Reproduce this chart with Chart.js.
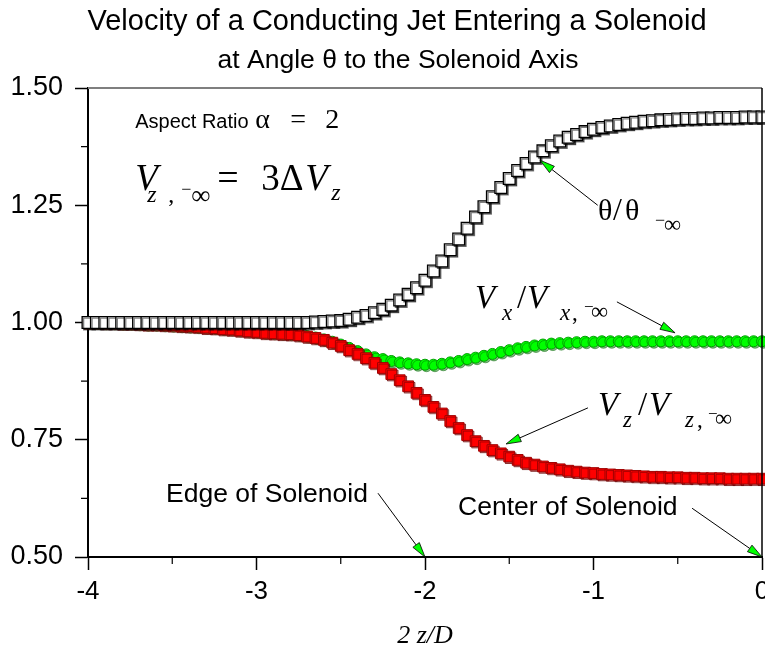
<!DOCTYPE html>
<html>
<head>
<meta charset="utf-8">
<script src="https://cdn.jsdelivr.net/npm/chart.js@4.4.1/dist/chart.umd.min.js"></script>
<style>
html, body { margin: 0; padding: 0; background: #fff; }
</style>
</head>
<body>
<canvas id="chart" width="765" height="656"></canvas>
<script>
const chartPlace = document.getElementById("chart");

const SANS = "'Liberation Sans', Arial, sans-serif";
const SERIF = "'Liberation Serif', 'Times New Roman', serif";

const titleLines = [
	"Velocity of a Conducting Jet Entering a Solenoid",
	"at Angle \u03b8 to the Solenoid Axis",
];

// 2z/D positions of the computed points
const zPos = [
	-4.00, -3.95, -3.90, -3.85, -3.80, -3.75, -3.70, -3.65, -3.60, -3.55,
	-3.50, -3.45, -3.40, -3.35, -3.30, -3.25, -3.20, -3.15, -3.10, -3.05,
	-3.00, -2.95, -2.90, -2.85, -2.80, -2.75, -2.70, -2.65, -2.60, -2.55,
	-2.50, -2.45, -2.40, -2.35, -2.30, -2.25, -2.20, -2.15, -2.10, -2.05,
	-2.00, -1.95, -1.90, -1.85, -1.80, -1.75, -1.70, -1.65, -1.60, -1.55,
	-1.50, -1.45, -1.40, -1.35, -1.30, -1.25, -1.20, -1.15, -1.10, -1.05,
	-1.00, -0.95, -0.90, -0.85, -0.80, -0.75, -0.70, -0.65, -0.60, -0.55,
	-0.50, -0.45, -0.40, -0.35, -0.30, -0.25, -0.20, -0.15, -0.10, -0.05,
	0.00,
];

// theta / theta_-inf
const thetaRatio = [
	1.000, 1.000, 1.000, 1.000, 1.000, 1.000, 1.000, 1.000, 1.000, 1.000,
	1.000, 1.000, 1.000, 1.000, 1.000, 1.000, 1.000, 1.000, 1.000, 1.000,
	1.000, 1.000, 1.000, 1.000, 1.000, 1.000, 1.000, 1.001, 1.002, 1.003,
	1.004, 1.007, 1.011, 1.015, 1.021, 1.028, 1.037, 1.048, 1.060, 1.074,
	1.090, 1.110, 1.131, 1.155, 1.178, 1.201, 1.225, 1.247, 1.268, 1.288,
	1.307, 1.324, 1.339, 1.353, 1.366, 1.377, 1.387, 1.395, 1.401, 1.407,
	1.412, 1.416, 1.419, 1.422, 1.425, 1.427, 1.429, 1.430, 1.432, 1.433,
	1.434, 1.435, 1.435, 1.436, 1.436, 1.437, 1.437, 1.437, 1.438, 1.438,
	1.438,
];

// Vx / Vx,-inf
const vxRatio = [
	1.000, 1.000, 0.999, 0.999, 0.998, 0.998, 0.997, 0.996, 0.996, 0.995,
	0.994, 0.993, 0.992, 0.991, 0.990, 0.989, 0.987, 0.986, 0.984, 0.982,
	0.981, 0.979, 0.978, 0.977, 0.976, 0.974, 0.971, 0.968, 0.964, 0.959,
	0.953, 0.946, 0.939, 0.932, 0.926, 0.922, 0.918, 0.915, 0.913, 0.911,
	0.910, 0.910, 0.912, 0.915, 0.918, 0.922, 0.925, 0.929, 0.933, 0.937,
	0.941, 0.945, 0.948, 0.951, 0.953, 0.955, 0.956, 0.957, 0.958, 0.959,
	0.959, 0.960, 0.960, 0.960, 0.960, 0.960, 0.960, 0.960, 0.960, 0.960,
	0.960, 0.960, 0.960, 0.960, 0.960, 0.960, 0.960, 0.960, 0.960, 0.960,
	0.960,
];

// Vz / Vz,-inf
const vzRatio = [
	1.000, 1.000, 0.999, 0.999, 0.998, 0.998, 0.997, 0.996, 0.996, 0.995,
	0.994, 0.993, 0.992, 0.991, 0.989, 0.988, 0.986, 0.985, 0.983, 0.981,
	0.980, 0.978, 0.977, 0.976, 0.975, 0.973, 0.970, 0.967, 0.963, 0.957,
	0.950, 0.941, 0.933, 0.924, 0.914, 0.903, 0.890, 0.877, 0.864, 0.850,
	0.835, 0.820, 0.806, 0.790, 0.775, 0.760, 0.747, 0.737, 0.728, 0.721,
	0.714, 0.707, 0.701, 0.697, 0.693, 0.690, 0.687, 0.684, 0.682, 0.680,
	0.679, 0.677, 0.676, 0.675, 0.674, 0.673, 0.672, 0.671, 0.671, 0.670,
	0.670, 0.669, 0.669, 0.668, 0.668, 0.668, 0.667, 0.667, 0.667, 0.667,
	0.667,
];

const xMajorTicks = [-4, -3, -2, -1, 0];
const xMinorTicks = [-3.5, -2.5, -1.5, -0.5];
const yMajorTicks = [0.5, 0.75, 1.0, 1.25, 1.5];
const yMinorTicks = [0.625, 0.875, 1.125, 1.375];

// annotation texts: anchor in data units, runs = [text, font, dx, dy]
const notes = [
	{ x: -3.72, y: 1.415, runs: [
		["Aspect Ratio", "20px " + SANS, 0, 0],
		["\u03b1", "28px " + SERIF, 120, 0],
		["=", "28px " + SERIF, 155, 0],
		["2", "28px " + SERIF, 190, 0],
	] },
	{ x: -3.72, y: 1.283, runs: [
		["V", "italic 37px " + SERIF, 0, 0],
		["z", "italic 24px " + SERIF, 12, 12],
		[",", "24px " + SERIF, 33, 12],
		["\u2212", "18px " + SERIF, 46, 5],
		["\u221e", "27px " + SERIF, 56, 14],
		["=", "38px " + SERIF, 82, 0],
		["3\u0394", "37px " + SERIF, 126, 0],
		["V", "italic 37px " + SERIF, 170, 0],
		["z", "italic 24px " + SERIF, 196, 10],
	] },
	{ x: -0.973, y: 1.219, runs: [
		["\u03b8", "30px " + SERIF, 0, 0],
		["/", "32px " + SERIF, 15, 0],
		["\u03b8", "30px " + SERIF, 27, 0],
		["\u2212", "18px " + SERIF, 57, 6],
		["\u221e", "24px " + SERIF, 66, 12],
	] },
	{ x: -1.703, y: 1.031, runs: [
		["V", "italic 33px " + SERIF, 0, 0],
		["x", "italic 23px " + SERIF, 27, 12],
		["/", "33px " + SERIF, 42, 0],
		["V", "italic 33px " + SERIF, 52, 0],
		["x", "italic 23px " + SERIF, 85, 12],
		[",", "23px " + SERIF, 97, 12],
		["\u2212", "17px " + SERIF, 109, 4],
		["\u221e", "24px " + SERIF, 116, 11],
	] },
	{ x: -0.973, y: 0.803, runs: [
		["V", "italic 33px " + SERIF, 0, 0],
		["z", "italic 23px " + SERIF, 25, 12],
		["/", "33px " + SERIF, 40, 0],
		["V", "italic 33px " + SERIF, 51, 0],
		["z", "italic 23px " + SERIF, 87, 12],
		[",", "23px " + SERIF, 99, 12],
		["\u2212", "17px " + SERIF, 110, 4],
		["\u221e", "24px " + SERIF, 117, 11],
	] },
	{ x: -3.537, y: 0.617, runs: [["Edge of Solenoid", "26.5px " + SANS, 0, 0]] },
	{ x: -1.804, y: 0.590, runs: [["Center of Solenoid", "26.5px " + SANS, 0, 0]] },
];

// arrows: [fromX, fromY, toX, toY] in data units
const arrows = [
	[-0.975, 1.250, -1.317, 1.346],
	[-0.861, 1.044, -0.516, 0.978],
	[-1.033, 0.818, -1.519, 0.741],
	[-2.279, 0.636, -2.000, 0.500],
	[-0.415, 0.604, 0.000, 0.500],
];

function toPoints(ys) {
	return zPos.map((x, i) => ({ x: x, y: ys[i] }));
}

function drawArrow(ctx, x1, y1, x2, y2) {
	const ang = Math.atan2(y2 - y1, x2 - x1);
	const len = 15;
	const half = 4;
	const bx = x2 - len * Math.cos(ang);
	const by = y2 - len * Math.sin(ang);
	ctx.strokeStyle = "#000";
	ctx.lineWidth = 1;
	ctx.beginPath();
	ctx.moveTo(x1, y1);
	ctx.lineTo(bx, by);
	ctx.stroke();
	ctx.beginPath();
	ctx.moveTo(x2, y2);
	ctx.lineTo(bx + half * Math.sin(ang), by - half * Math.cos(ang));
	ctx.lineTo(bx - half * Math.sin(ang), by + half * Math.cos(ang));
	ctx.closePath();
	ctx.fillStyle = "#00ff00";
	ctx.fill();
	ctx.lineWidth = 0.8;
	ctx.stroke();
}

const markerShadows = ["rgba(0,110,0,0.5)", "rgba(110,0,0,0.55)", "rgba(0,0,0,0.5)"];

const framePlugin = {
	id: "frame",
	beforeDatasetDraw(chart, args) {
		const ctx = chart.ctx;
		ctx.save();
		ctx.shadowColor = markerShadows[args.index];
		ctx.shadowOffsetX = 1.5;
		ctx.shadowOffsetY = 1.5;
		ctx.shadowBlur = 0.5;
	},
	afterDatasetDraw(chart) {
		chart.ctx.restore();
	},
	afterDraw(chart) {
		const ctx = chart.ctx;
		const a = chart.chartArea;
		const xs = chart.scales.x;
		const ys = chart.scales.y;
		ctx.save();
		// two-line title, centred a little right of the canvas middle
		ctx.fillStyle = "#000";
		ctx.textAlign = "center";
		ctx.textBaseline = "alphabetic";
		ctx.font = "29px " + SANS;
		ctx.fillText(titleLines[0], 397, 30);
		ctx.font = "26.5px " + SANS;
		ctx.fillText(titleLines[1], 398, 68);
		// top and right frame
		ctx.strokeStyle = "#7f7f7f";
		ctx.lineWidth = 2;
		ctx.beginPath();
		ctx.moveTo(a.left, a.top);
		ctx.lineTo(a.right, a.top);
		ctx.stroke();
		ctx.strokeStyle = "#000";
		ctx.lineWidth = 1.5;
		ctx.beginPath();
		ctx.moveTo(a.right, a.top);
		ctx.lineTo(a.right, a.bottom);
		ctx.stroke();
		// minor ticks
		ctx.lineWidth = 1.2;
		ctx.beginPath();
		xMinorTicks.forEach((v) => {
			const p = xs.getPixelForValue(v);
			ctx.moveTo(p, a.bottom);
			ctx.lineTo(p, a.bottom + 7);
		});
		yMinorTicks.forEach((v) => {
			const p = ys.getPixelForValue(v);
			ctx.moveTo(a.left, p);
			ctx.lineTo(a.left - 7, p);
		});
		ctx.stroke();
		// arrows
		arrows.forEach((r) => {
			drawArrow(ctx, xs.getPixelForValue(r[0]), ys.getPixelForValue(r[1]),
				xs.getPixelForValue(r[2]), ys.getPixelForValue(r[3]));
		});
		// texts
		ctx.fillStyle = "#000";
		ctx.textAlign = "left";
		notes.forEach((n) => {
			const px = xs.getPixelForValue(n.x);
			const py = ys.getPixelForValue(n.y);
			n.runs.forEach((r) => {
				ctx.font = r[1];
				ctx.fillText(r[0], px + r[2], py + r[3]);
			});
		});
		ctx.restore();
	},
};

const theChart = new Chart(chartPlace, {
	type: "scatter",
	data: {
		datasets: [
			{
				label: "Vx/Vx,-inf",
				data: toPoints(vxRatio),
				order: 3,
				clip: false,
				pointStyle: "circle",
				pointRadius: 5.5,
				backgroundColor: "#00ff00",
				borderColor: "#00a000",
				borderWidth: 1,
			},
			{
				label: "Vz/Vz,-inf",
				data: toPoints(vzRatio),
				order: 2,
				clip: false,
				pointStyle: "rect",
				pointRadius: 7.6,
				backgroundColor: "#ff0000",
				borderColor: "#a00000",
				borderWidth: 1,
			},
			{
				label: "theta/theta-inf",
				data: toPoints(thetaRatio),
				order: 1,
				clip: false,
				pointStyle: "rect",
				pointRadius: 8.3,
				backgroundColor: "#ffffff",
				borderColor: "#000000",
				borderWidth: 1.3,
			},
		],
	},
	options: {
		responsive: false,
		animation: false,
		layout: {
			autoPadding: false,
			padding: { left: 0, right: 3, top: 88, bottom: 0 },
		},
		elements: {
			point: { hoverRadius: 0 },
		},
		scales: {
			x: {
				type: "linear",
				min: -4,
				max: 0,
				afterFit: (scale) => {
					scale.height = 99;
					scale.paddingLeft = 0;
					scale.paddingRight = 0;
				},
				afterBuildTicks: (scale) => { scale.ticks = xMajorTicks.map((v) => ({ value: v })); },
				border: { color: "#000", width: 2 },
				grid: { drawOnChartArea: false, tickLength: 13, tickColor: "#000", tickWidth: 1.5 },
				ticks: {
					color: "#000",
					padding: 6,
					font: { family: SANS, size: 26 },
					callback: (v) => String(v),
				},
				title: {
					display: true,
					text: "2 z/D",
					color: "#000",
					padding: { top: 0, bottom: 4 },
					font: { family: SERIF, size: 26, style: "italic" },
				},
			},
			y: {
				type: "linear",
				min: 0.5,
				max: 1.5,
				afterFit: (scale) => {
					scale.width = 88;
					scale.paddingTop = 0;
					scale.paddingBottom = 0;
				},
				afterBuildTicks: (scale) => { scale.ticks = yMajorTicks.map((v) => ({ value: v })); },
				border: { color: "#000", width: 2 },
				grid: { drawOnChartArea: false, tickLength: 13, tickColor: "#000", tickWidth: 1.5 },
				ticks: {
					color: "#000",
					padding: 12,
					font: { family: SANS, size: 27 },
					callback: (v) => Number(v).toFixed(2),
				},
			},
		},
		plugins: {
			legend: { display: false },
			tooltip: { enabled: false },
		},
	},
	plugins: [framePlugin],
});
</script>
</body>
</html>
